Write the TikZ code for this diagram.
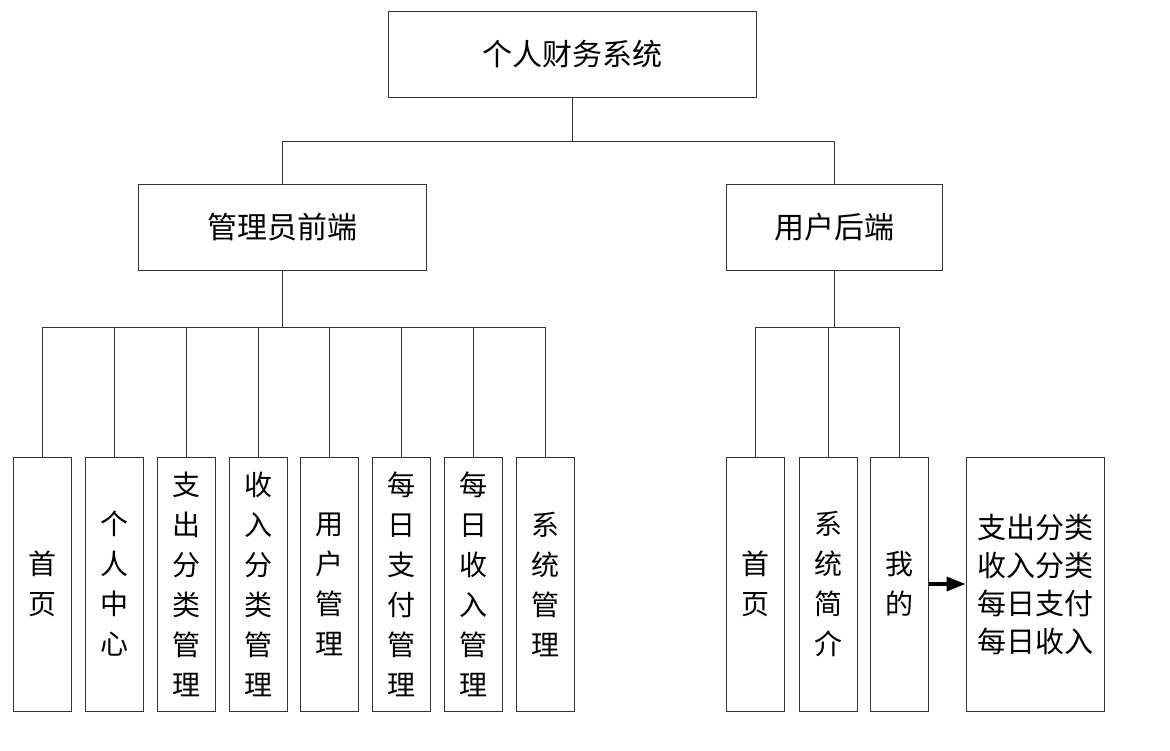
\documentclass[tikz,border=0pt]{standalone}
\usepackage{fontspec}
\setmainfont{Noto Sans CJK SC}
\usetikzlibrary{arrows.meta}
\begin{document}
\begin{tikzpicture}[x=1pt,y=-1pt,
    every node/.style={draw=black!80,line width=0.9pt,inner sep=0pt,align=center},
    rootbox/.style={minimum width=368pt,minimum height=86pt,font=\fontsize{30}{36}\selectfont},
    midbox/.style={minimum height=86pt,font=\fontsize{30}{36}\selectfont},
    leafbox/.style={minimum width=58pt,minimum height=254pt,font=\fontsize{28}{40}\selectfont},
    listbox/.style={minimum width=138pt,minimum height=254pt,font=\fontsize{29}{38}\selectfont},
    line width=0.9pt,draw=black!80]
  \useasboundingbox (0,0) rectangle (1170,750);
  \draw
    (572,54) node[rootbox] (top){个人财务系统}
    (282,227) node[midbox,minimum width=288pt] (admin){管理员前端}
    (834,227) node[midbox,minimum width=216pt] (user){用户后端}
    (42,584) node[leafbox] (a1){首\\页}
    (114,584) node[leafbox] (a2){个\\人\\中\\心}
    (186,584) node[leafbox] (a3){支\\出\\分\\类\\管\\理}
    (258,584) node[leafbox] (a4){收\\入\\分\\类\\管\\理}
    (329.5,584) node[leafbox] (a5){用\\户\\管\\理}
    (401,584) node[leafbox] (a6){每\\日\\支\\付\\管\\理}
    (473,584) node[leafbox] (a7){每\\日\\收\\入\\管\\理}
    (545,584) node[leafbox] (a8){系\\统\\管\\理}
    (755,584) node[leafbox] (u1){首\\页}
    (828,584) node[leafbox] (u2){系\\统\\简\\介}
    (899.5,584) node[leafbox] (u3){我\\的}
    (1035,584) node[listbox] (more){支出分类\\收入分类\\每日支付\\每日收入};
  \begin{scope}[-]
    \draw (top.south) -- ++(0,44) -| (admin.north);
    \draw (top.south) -- ++(0,44) -| (user.north);
    \draw (admin.south) -- ++(0,57) -| (a1.north);
    \draw (admin.south) -- ++(0,57) -| (a2.north);
    \draw (admin.south) -- ++(0,57) -| (a3.north);
    \draw (admin.south) -- ++(0,57) -| (a4.north);
    \draw (admin.south) -- ++(0,57) -| (a5.north);
    \draw (admin.south) -- ++(0,57) -| (a6.north);
    \draw (admin.south) -- ++(0,57) -| (a7.north);
    \draw (admin.south) -- ++(0,57) -| (a8.north);
    \draw (user.south) -- ++(0,57) -| (u1.north);
    \draw (user.south) -- ++(0,57) -| (u2.north);
    \draw (user.south) -- ++(0,57) -| (u3.north);
  \end{scope}
  \draw[-{Triangle[length=19pt,width=14pt]},line width=3.5pt,draw=black] (u3.east) -- (more.west);
\end{tikzpicture}
\end{document}
